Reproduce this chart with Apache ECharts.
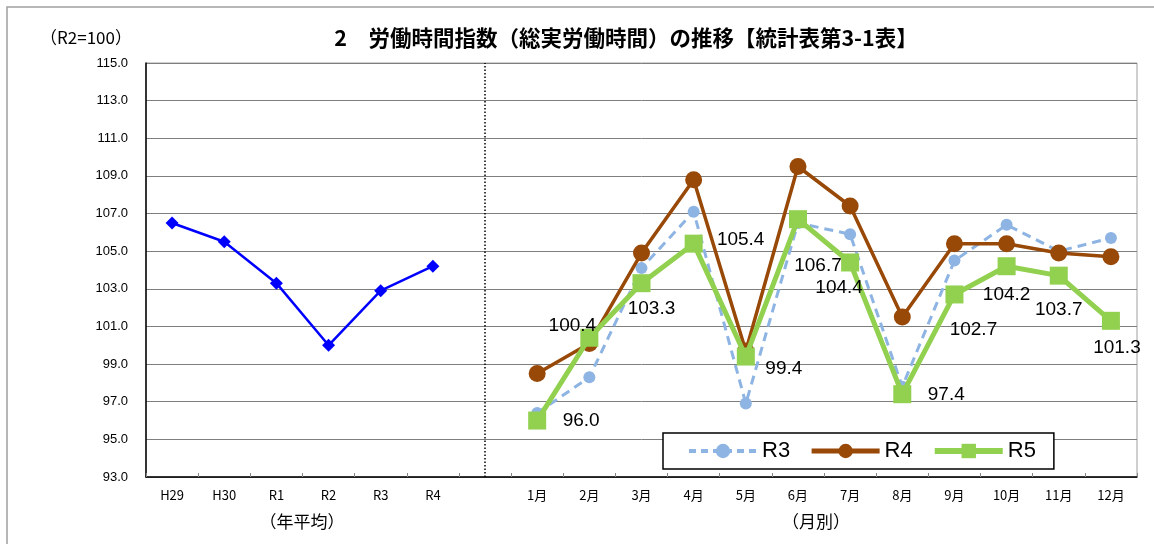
<!DOCTYPE html>
<html>
<head>
<meta charset="utf-8">
<script src="https://cdn.jsdelivr.net/npm/echarts@6/dist/echarts.min.js"></script>
<style>
html,body{margin:0;padding:0;background:#fff;}
#chart{width:1154px;height:544px;}
</style>
</head>
<body>
<div id="chart"></div>
<script>
// ---- data ----
const categories = ['H29','H30','R1','R2','R3','R4','','1月','2月','3月','4月','5月','6月','7月','8月','9月','10月','11月','12月'];
const annualValues = [106.5,105.5,103.3,100.0,102.9,104.2];
const r3Values = [96.4,98.3,104.1,107.1,96.9,106.5,105.9,97.8,104.5,106.4,105.0,105.7];
const r4Values = [98.5,100.1,104.9,108.8,99.7,109.5,107.4,101.5,105.4,105.4,104.9,104.7];
const r5Values = [96.0,100.4,103.3,105.4,99.4,106.7,104.4,97.4,102.7,104.2,103.7,101.3];
const seriesNames = ['R3','R4','R5'];
const yMin = 93, yMax = 115, yStep = 2;

// label offsets (style only)
const r5LabelOffsets = [[44,0],[-17,-12],[10,26],[47,-4],[38,12],[20,47],[-11,25],[44,1],[19,35],[0,29],[0,34],[6,27]];

const monthStart = categories.indexOf('1月');
const pad = n => Array(n).fill('-');
const annualData = annualValues.concat(pad(categories.length - annualValues.length));
const monthly = arr => pad(monthStart).concat(arr);

const chart = echarts.init(document.getElementById('chart'));
const jp = '"Noto Sans CJK JP", sans-serif';
const num = '"Liberation Sans", Arial, sans-serif';

const colR3 = '#8db4e2', colR4 = '#984807', colR5 = '#92d050';

chart.setOption({
  animation: false,
  backgroundColor: '#fff',
  title: {
    text: '2　労働時間指数（総実労働時間）の推移【統計表第3-1表】',
    left: 621, top: 22, textAlign: 'center',
    textStyle: {fontFamily: jp, fontSize: 21.5, fontWeight: 'bold', color: '#000'}
  },
  graphic: [
    {type:'rect', shape:{x:7,y:7,width:1400,height:800}, style:{fill:'none', stroke:'#a0a0a0', lineWidth:1.5}, silent:true},
    {type:'text', left: 40, top: 29, style:{text:'（R2=100）', font:'17px ' + jp, fill:'#000'}},
    {type:'text', x: 302, y: 522, style:{text:'（年平均）', font:'17px ' + jp, fill:'#000', align:'center', verticalAlign:'middle'}},
    {type:'text', x: 816, y: 522, style:{text:'（月別）', font:'17px ' + jp, fill:'#000', align:'center', verticalAlign:'middle'}}
  ],
  legend: {
    data: [
      {name: seriesNames[0], lineStyle: {width: 4, color: colR3, type: [7, 5]}},
      {name: seriesNames[1], lineStyle: {width: 5, color: colR4}},
      {name: seriesNames[2], lineStyle: {width: 6, color: colR5}}
    ],
    left: 663, top: 433,
    orient: 'horizontal',
    itemWidth: 68, itemHeight: 18, itemGap: 19,
    padding: [7, 18, 7, 24],
    borderColor: '#000', borderWidth: 1.5,
    backgroundColor: '#fff',
    textStyle: {fontFamily: num, fontSize: 22, color: '#000'}
  },
  grid: {left: 146, right: 17, top: 63, bottom: 67, show: true, borderColor: '#a0a0a0', borderWidth: 1, backgroundColor: 'transparent'},
  xAxis: {
    type: 'category',
    data: categories,
    boundaryGap: true,
    axisLine: {lineStyle: {color: '#000', width: 1.5}},
    axisTick: {show: true, inside: true, length: 4, lineStyle: {color: '#888'}},
    axisLabel: {interval: 0, margin: 12, fontFamily: jp, fontSize: 13, color: '#000'}
  },
  yAxis: {
    type: 'value',
    min: yMin, max: yMax, interval: yStep,
    axisLine: {show: true, lineStyle: {color: '#000', width: 1.5}},
    axisTick: {show: false},
    axisLabel: {formatter: v => v.toFixed(1), margin: 18, fontFamily: num, fontSize: 13, color: '#000'},
    splitLine: {lineStyle: {color: '#7f7f7f', width: 1}}
  },
  series: [
    {
      name: 'annual', type: 'line', data: annualData,
      symbol: 'diamond', symbolSize: 13,
      lineStyle: {color: '#0000ff', width: 2.5},
      itemStyle: {color: '#0000ff'},
      z: 2,
      markLine: {
        silent: true, symbol: 'none', label: {show: false},
        lineStyle: {type: [1.5, 2], color: '#000', width: 1.5},
        data: [{xAxis: categories.indexOf('')}]
      }
    },
    {
      name: seriesNames[0], type: 'line', data: monthly(r3Values),
      symbol: 'circle', symbolSize: 12,
      lineStyle: {color: colR3, width: 3, type: [9, 6]},
      itemStyle: {color: colR3},
      z: 3
    },
    {
      name: seriesNames[1], type: 'line', data: monthly(r4Values),
      symbol: 'circle', symbolSize: 17,
      lineStyle: {color: colR4, width: 3.5},
      itemStyle: {color: colR4},
      z: 4
    },
    {
      name: seriesNames[2], type: 'line',
      data: pad(monthStart).concat(r5Values.map((v, i) => ({
        value: v,
        label: {offset: r5LabelOffsets[i]}
      }))),
      symbol: 'rect', symbolSize: 18,
      lineStyle: {color: colR5, width: 5},
      itemStyle: {color: colR5},
      label: {show: true, position: 'inside', formatter: p => Number(p.value).toFixed(1),
              fontFamily: num, fontSize: 19, color: '#000'},
      z: 5
    }
  ]
});
</script>
</body>
</html>
